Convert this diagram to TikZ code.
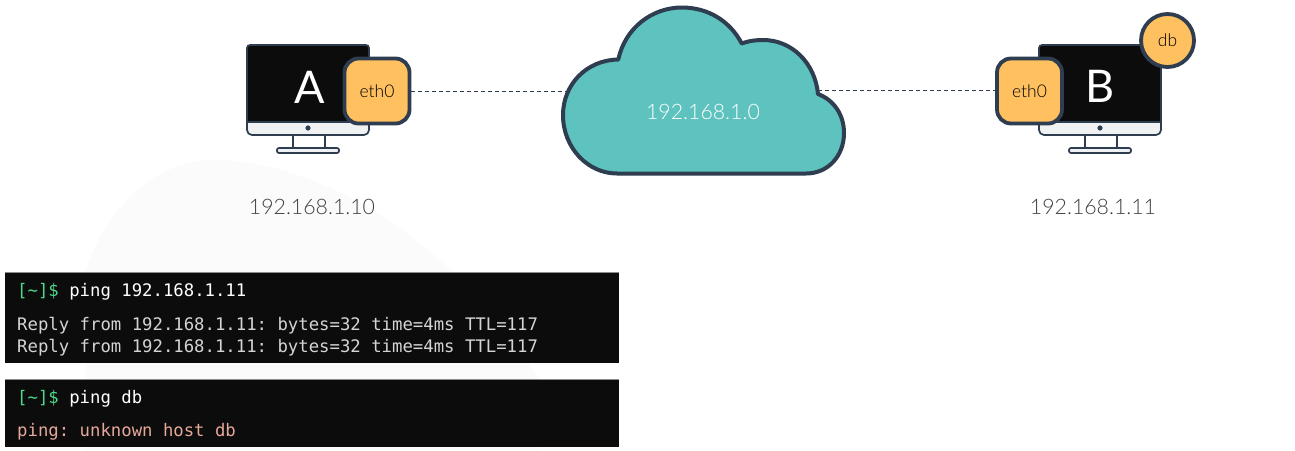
\documentclass[tikz,border=0pt]{standalone}
\usepackage{fontspec}
\setmainfont{Lato}
\newfontfamily\lightf{Lato Light}
\setmonofont{DejaVu Sans Mono}
\definecolor{ink}{HTML}{2E3D50}
\definecolor{orangebox}{HTML}{FFC05F}
\definecolor{cloudfill}{HTML}{5EC2BE}
\definecolor{screenblack}{HTML}{0C0C0C}
\definecolor{bezel}{HTML}{F0F1F3}
\definecolor{termgreen}{HTML}{4CD98A}
\definecolor{termgrey}{HTML}{D4D4D4}
\definecolor{termred}{HTML}{E6A898}
\tikzset{
 x=1pt,y=-1pt,
 ethbox/.style={draw=ink,line width=3.8pt,fill=orangebox,rounded corners=14pt,minimum width=65pt,minimum height=65pt,inner sep=0pt,font=\lightf\fontsize{17.5}{20}\selectfont,text=black},
 dbcircle/.style={draw=ink,line width=3.8pt,fill=orangebox,circle,minimum size=53pt,inner sep=0pt,font=\lightf\fontsize{17.5}{20}\selectfont,text=black},
 hostletter/.style={font=\fontsize{45}{48}\selectfont,text=white,inner sep=0pt},
 iplabel/.style={font=\lightf\fontsize{21.3}{26}\selectfont,text=black!75,inner sep=0pt},
 termbox/.style={fill=screenblack,draw=none},
 termtext/.style={font=\ttfamily\fontsize{17.3}{20}\selectfont,anchor=base west,inner sep=0pt},
 link/.style={draw=ink,line width=1pt,dash pattern=on 4pt off 3pt},
 mon/.style={draw=ink,line width=1.7pt},
}
\newcommand{\monitor}[2]{%
 \begin{scope}[shift={(#1,#2)}]
  \path[mon,fill=white] (46,90) rectangle (78,103);
  \path[mon,fill=bezel,rounded corners=2pt] (30,103) rectangle (92,108);
  \path[mon,fill=bezel,rounded corners=5pt] (0,70) rectangle (122,90);
  \path[mon,fill=screenblack,sharp corners] (0,77) -- (0,3) [rounded corners=3pt] -- (0,0) -- (122,0) [sharp corners] -- (122,3) -- (122,77) -- cycle;
  \fill[ink] (61,83) circle (2.6);
 \end{scope}}
\begin{document}
\begin{tikzpicture}
\useasboundingbox (0,0) rectangle (1295,450);
\fill[white] (0,0) rectangle (1295,450);
% faint background shape
\fill[black!1.5] (85,272) .. controls (110,200) and (160,160) .. (215,160)
  .. controls (300,160) and (440,220) .. (540,380) -- (540,450) -- (85,450) -- cycle;
% monitors
\monitor{247}{45}
\monitor{1039}{45}
% connector ends on the cloud
\coordinate (cloudL) at (566,90);
\coordinate (cloudR) at (818,90);
\node[ethbox] (ethA) at (377,91) {eth0};
\node[ethbox] (ethB) at (1029.5,91) {eth0};
\draw[link] (ethA.east) -- (ethA.east -| cloudL);
\draw[link] (cloudR) -- (cloudR -| ethB.west);
% cloud
\draw[draw=ink,line width=4pt,fill=cloudfill,line join=round]
  (618.3,59.5) .. controls (625,28) and (652,7.5) .. (682,7.5)
  .. controls (708,7.5) and (730,21) .. (741.7,43.5)
  .. controls (750,40.5) and (757,40) .. (763,40)
  .. controls (792,40) and (815,63) .. (818,94)
  .. controls (834,100) and (844,115) .. (844,133)
  .. controls (844,156) and (828,173.5) .. (806,173.5)
  -- (617,173.5)
  .. controls (588,173.5) and (563,148) .. (563,115)
  .. controls (563,85) and (586,60) .. (618.3,59.5) -- cycle;
\node[font=\lightf\fontsize{21.3}{26}\selectfont,text=white,inner sep=0pt] (net) at (703,112) {192.168.1.0};
% host letters
\node[hostletter] (hostA) at (309.5,87) {A};
\node[hostletter] (hostB) at (1100,86) {B};
\node[dbcircle] (db) at (1167.5,40.5) {db};
% address labels
\node[iplabel] (ipA) at (312,207) {192.168.1.10};
\node[iplabel] (ipB) at (1093,207) {192.168.1.11};
% terminals
\fill[black!45] (5,272) rectangle (619,274);
\fill[black!45] (5,378.5) rectangle (619,380.5);
\fill[termbox] (5,273) rectangle (619,362.5);
\fill[termbox] (5,379.5) rectangle (619,447);
\node[termtext] (t1) at (17,296) {\textcolor{termgreen}{[\~{}]\$} \textcolor{white}{ping 192.168.1.11}};
\node[termtext,text=termgrey] (t2) at (17,330) {Reply from 192.168.1.11: bytes=32 time=4ms TTL=117};
\node[termtext,text=termgrey] (t3) at (17,352) {Reply from 192.168.1.11: bytes=32 time=4ms TTL=117};
\node[termtext] (t4) at (17,403) {\textcolor{termgreen}{[\~{}]\$} \textcolor{white}{ping db}};
\node[termtext,text=termred] (t5) at (17,436) {ping: unknown host db};
\end{tikzpicture}
\end{document}
